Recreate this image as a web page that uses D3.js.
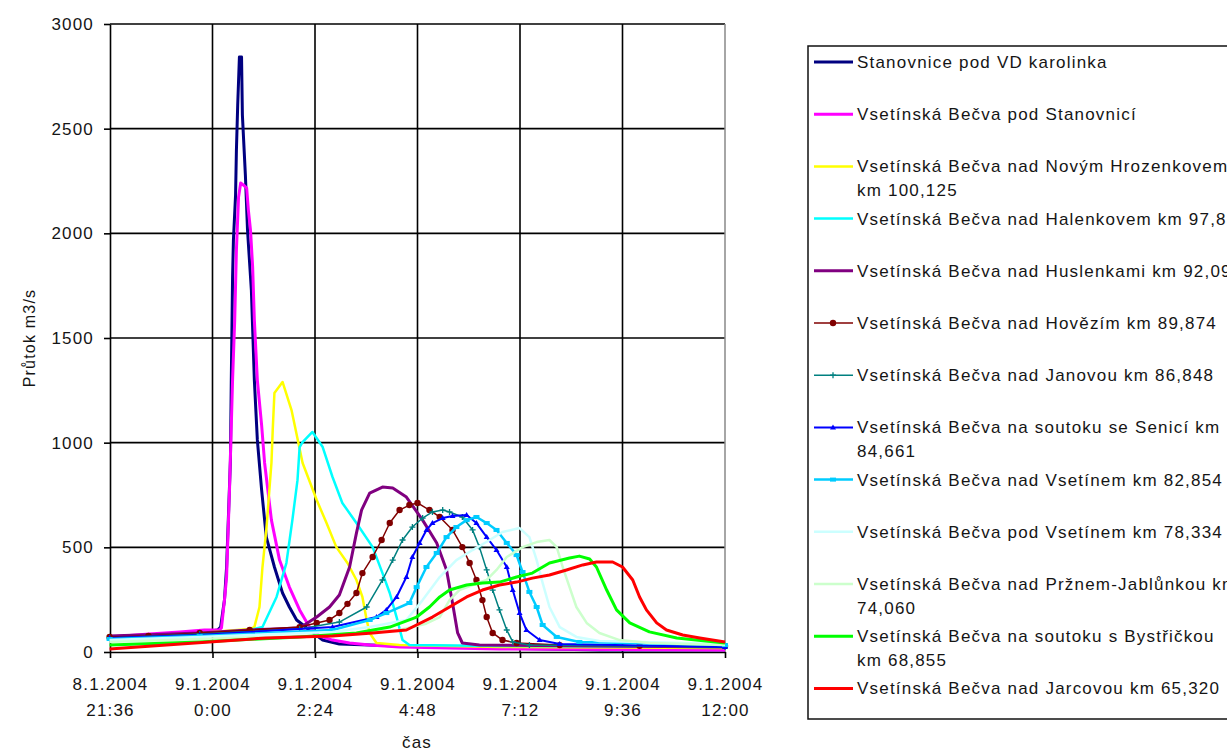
<!DOCTYPE html>
<html lang="cs">
<head>
<meta charset="utf-8">
<script src="https://d3js.org/d3.v7.min.js"></script>
<style>
    body { margin: 0; background: #fff; }
    svg { display: block; }
    text {
        font-family: "Liberation Sans", Arial, sans-serif;
        font-size: 17px;
        letter-spacing: 1.2px;
        fill: #151515;
    }
    .grid line { stroke: #000; stroke-width: 1.6; }
    .axis path, .axis line { stroke: #000; stroke-width: 1.6; }
</style>
</head>
<body>
<svg id="chart" width="1227" height="751"></svg>
<script>
// time values = hours after 9.1.2004 0:00, values = m3/s
const xTickDates = ["8.1.2004 21:36", "9.1.2004 0:00", "9.1.2004 2:24", "9.1.2004 4:48",
                    "9.1.2004 7:12", "9.1.2004 9:36", "9.1.2004 12:00"];
const yTicks = [0, 500, 1000, 1500, 2000, 2500, 3000];

const stanovnice = [[-2.41,62],[-1.71,72],[-1.01,81],[-0.30,91],[0.12,105],[0.19,119],[0.23,177],[0.28,248],[0.33,406],[0.37,630],[0.42,917],[0.44,1299],[0.47,1791],[0.49,1968],[0.54,2183],[0.56,2398],[0.59,2612],[0.63,2842],[0.68,2842],[0.70,2565],[0.77,2278],[0.82,2015],[0.91,1729],[0.98,1299],[1.05,1013],[1.15,774],[1.26,549],[1.45,406],[1.64,282],[1.80,215],[1.97,153],[2.27,105],[2.58,57],[2.97,38],[4.38,29],[6.72,19],[9.06,10],[12.0,10]];
const podStanovnici = [[-2.41,72],[-1.48,86],[-0.77,96],[-0.19,105],[0.16,105],[0.21,115],[0.28,248],[0.33,358],[0.40,788],[0.47,1299],[0.52,1586],[0.56,1920],[0.61,2173],[0.66,2240],[0.73,2230],[0.80,2216],[0.84,2111],[0.89,2015],[0.94,1839],[0.98,1586],[1.05,1299],[1.15,1084],[1.22,903],[1.38,630],[1.57,439],[1.80,310],[2.04,201],[2.27,119],[2.51,76],[2.81,57],[3.21,43],[3.68,33],[4.38,24],[6.72,14],[12.0,10]];
const novyHrozenkov = [[-2.41,72],[-0.30,91],[0.87,110],[0.98,119],[1.10,215],[1.17,406],[1.26,583],[1.38,903],[1.41,1060],[1.45,1237],[1.64,1290],[1.85,1156],[2.11,903],[2.44,726],[2.67,616],[2.90,501],[3.16,425],[3.37,344],[3.51,263],[3.61,153],[3.68,91],[3.84,43],[4.38,33],[6.72,24],[12.0,19]];
const halenkov = [[-2.41,67],[-0.30,86],[0.87,105],[1.17,119],[1.50,263],[1.73,425],[1.87,630],[1.99,821],[2.04,979],[2.11,1003],[2.34,1051],[2.58,979],[2.81,836],[3.04,712],[3.37,616],[3.75,501],[3.98,377],[4.15,282],[4.31,167],[4.45,57],[4.61,33],[6.72,29],[12.0,24]];
const huslenky = [[-2.41,76],[-0.30,91],[0.87,105],[2.04,115],[2.44,167],[2.74,215],[2.97,272],[3.21,406],[3.37,568],[3.49,678],[3.68,759],[3.98,788],[4.22,783],[4.54,740],[4.92,630],[5.25,521],[5.48,392],[5.62,234],[5.74,91],[5.85,43],[6.25,33],[12.0,24]];
const hovezi = [[-2.41,72],[-1.5,77],[-0.30,91],[0.87,105],[2.04,119],[2.44,139],[2.74,153],[2.97,186],[3.16,230],[3.37,282],[3.51,377],[3.75,454],[3.96,535],[4.15,616],[4.38,678],[4.61,702],[4.80,712],[5.08,678],[5.32,645],[5.62,583],[5.85,501],[6.02,425],[6.18,344],[6.32,248],[6.42,167],[6.56,91],[6.79,57],[7.12,43],[8.13,33],[10.0,30],[12.0,29]];
const janova = [[-2.41,67],[-0.30,86],[2.04,110],[2.97,143],[3.61,215],[3.98,344],[4.22,439],[4.45,535],[4.68,597],[4.92,640],[5.15,669],[5.39,678],[5.55,669],[5.85,645],[6.09,583],[6.25,501],[6.42,392],[6.56,296],[6.72,201],[6.89,105],[7.03,48],[7.42,33],[12.0,24]];
const senice = [[-2.41,67],[-0.30,81],[2.81,119],[3.84,167],[4.07,201],[4.31,263],[4.54,358],[4.68,454],[4.85,521],[5.01,583],[5.15,616],[5.39,640],[5.62,650],[5.95,654],[6.18,616],[6.42,549],[6.65,487],[6.89,406],[7.03,296],[7.19,186],[7.35,105],[7.66,57],[8.13,38],[12.0,24]];
const nadVsetinem = [[-2.41,62],[-0.30,76],[2.81,105],[3.68,153],[4.07,186],[4.61,234],[4.78,310],[5.01,406],[5.25,473],[5.48,549],[5.71,597],[5.95,630],[6.18,645],[6.42,616],[6.65,583],[6.89,521],[7.12,463],[7.26,382],[7.42,287],[7.59,215],[7.73,129],[8.06,72],[8.59,48],[12.0,33]];
const podVsetinem = [[-2.41,57],[-0.30,72],[2.81,96],[3.68,119],[4.54,153],[4.92,248],[5.32,358],[5.71,439],[6.09,487],[6.49,535],[6.79,573],[7.19,592],[7.42,549],[7.59,439],[7.73,330],[7.89,215],[8.13,119],[8.52,72],[9.06,53],[12.0,38]];
const prznem = [[-2.41,48],[-0.30,62],[2.81,81],[4.38,105],[5.0,135],[5.32,167],[5.55,248],[5.78,296],[6.09,320],[6.42,344],[6.65,392],[6.89,454],[7.26,501],[7.59,525],[7.89,535],[8.06,501],[8.20,406],[8.36,310],[8.52,215],[8.76,139],[9.06,91],[9.53,57],[10.23,43],[12.0,33]];
const bystricka = [[-2.41,33],[-0.30,48],[2.04,72],[3.37,91],[4.15,119],[4.78,167],[5.08,215],[5.32,263],[5.55,296],[5.95,320],[6.32,330],[6.72,334],[7.12,358],[7.49,377],[7.89,425],[8.36,449],[8.59,458],[8.83,444],[8.99,406],[9.23,296],[9.46,201],[9.77,139],[10.23,96],[10.87,67],[12.0,43]];
const jarcova = [[-2.41,14],[-1.08,33],[1.26,67],[2.81,76],[3.75,91],[4.54,105],[5.15,167],[5.55,215],[5.95,263],[6.32,296],[6.72,320],[7.12,334],[7.49,353],[7.89,368],[8.29,392],[8.67,416],[8.99,430],[9.37,430],[9.60,406],[9.84,344],[10.0,263],[10.16,201],[10.40,139],[10.63,105],[11.01,81],[11.41,67],[12.0,48]];

const series = [
    {name: ["Stanovnice pod VD karolinka"], data: stanovnice, color: "#000080", width: 3},
    {name: ["Vsetínská Bečva pod Stanovnicí"], data: podStanovnici, color: "#ff00ff", width: 3},
    {name: ["Vsetínská Bečva nad Novým Hrozenkovem", "km 100,125"], data: novyHrozenkov, color: "#ffff00", width: 2.5},
    {name: ["Vsetínská Bečva nad Halenkovem km 97,8"], data: halenkov, color: "#00ffff", width: 2.5},
    {name: ["Vsetínská Bečva nad Huslenkami km 92,09"], data: huslenky, color: "#800080", width: 3},
    {name: ["Vsetínská Bečva nad Hovězím km 89,874"], data: hovezi, color: "#800000", width: 1.5, marker: "circle"},
    {name: ["Vsetínská Bečva nad Janovou km 86,848"], data: janova, color: "#008080", width: 1.5, marker: "plus"},
    {name: ["Vsetínská Bečva na soutoku se Senicí km", "84,661"], data: senice, color: "#0000ff", width: 2, marker: "tri"},
    {name: ["Vsetínská Bečva nad Vsetínem km 82,854"], data: nadVsetinem, color: "#00ccff", width: 2.5, marker: "rect"},
    {name: ["Vsetínská Bečva pod Vsetínem km 78,334"], data: podVsetinem, color: "#ccffff", width: 2.5},
    {name: ["Vsetínská Bečva nad Pržnem-Jablůnkou km", "74,060"], data: prznem, color: "#ccffcc", width: 2.5},
    {name: ["Vsetínská Bečva na soutoku s Bystřičkou", "km 68,855"], data: bystricka, color: "#00ff00", width: 3},
    {name: ["Vsetínská Bečva nad Jarcovou km 65,320"], data: jarcova, color: "#ff0000", width: 3}
];

const svg = d3.select("#chart");
const plot = {left: 110, right: 725, top: 24, bottom: 652};

const parseDate = d3.timeParse("%d.%m.%Y %H:%M");
const base = new Date(2004, 0, 9, 0, 0);
const toDate = h => new Date(base.getTime() + h * 3600000);
const tickDates = xTickDates.map(parseDate);

const x = d3.scaleTime()
    .domain([tickDates[0], tickDates[tickDates.length - 1]])
    .range([plot.left, plot.right]);
const y = d3.scaleLinear()
    .domain([0, 3000])
    .range([plot.bottom, plot.top]);

// grid
const grid = svg.append("g").attr("class", "grid");
grid.selectAll(".h").data(yTicks.slice(1)).enter().append("line")
    .attr("x1", plot.left).attr("x2", plot.right)
    .attr("y1", d => y(d)).attr("y2", d => y(d));
grid.selectAll(".v").data(tickDates.slice(1, -1)).enter().append("line")
    .attr("x1", d => x(d)).attr("x2", d => x(d))
    .attr("y1", plot.top).attr("y2", plot.bottom);
svg.append("line")
    .attr("x1", plot.right).attr("x2", plot.right)
    .attr("y1", plot.top).attr("y2", plot.bottom)
    .attr("stroke", "#888").attr("stroke-width", 1.5);

// axes
const yAxis = svg.append("g").attr("class", "axis")
    .attr("transform", `translate(${plot.left},0)`)
    .call(d3.axisLeft(y).tickValues(yTicks).tickFormat(d3.format("d"))
        .tickSize(6).tickPadding(10).tickSizeOuter(0));
yAxis.selectAll("text").attr("fill", "#151515").style("font-size", "17px").style("font-family", null);

const xAxis = svg.append("g").attr("class", "axis")
    .attr("transform", `translate(0,${plot.bottom})`)
    .call(d3.axisBottom(x).tickValues(tickDates).tickSize(6).tickSizeOuter(0).tickFormat(""));
xAxis.selectAll(".tick text").remove();
xAxis.selectAll(".tick").each(function(d, i) {
    const parts = xTickDates[i].split(" ");
    const t = d3.select(this).append("text")
        .attr("text-anchor", "middle");
    t.append("tspan").attr("x", 0).attr("y", 38).text(parts[0]);
    t.append("tspan").attr("x", 0).attr("y", 64).text(parts[1]);
});
svg.selectAll(".axis .domain").attr("stroke-width", 1.6);

// axis titles
svg.append("text")
    .attr("x", 417).attr("y", 748)
    .attr("text-anchor", "middle")
    .text("čas");
svg.append("text")
    .attr("transform", "translate(35,338) rotate(-90)")
    .attr("text-anchor", "middle")
    .style("font-size", "16px")
    .text("Průtok m3/s");

// lines
const line = d3.line()
    .x(d => x(toDate(d[0])))
    .y(d => y(d[1]));

function drawMarker(g, type, color, cx, cy) {
    if (type === "circle") {
        g.append("circle").attr("cx", cx).attr("cy", cy).attr("r", 3.2).attr("fill", color);
    } else if (type === "plus") {
        g.append("path").attr("d", `M${cx - 3},${cy}h6M${cx},${cy - 3}v6`)
            .attr("stroke", color).attr("stroke-width", 1.3);
    } else if (type === "tri") {
        g.append("path").attr("d", `M${cx},${cy - 3}L${cx + 3},${cy + 2}L${cx - 3},${cy + 2}Z`).attr("fill", color);
    } else if (type === "rect") {
        g.append("rect").attr("x", cx - 3).attr("y", cy - 2).attr("width", 6).attr("height", 4).attr("fill", color);
    }
}

series.forEach(s => {
    const g = svg.append("g");
    g.append("path")
        .datum(s.data)
        .attr("d", line)
        .attr("fill", "none")
        .attr("stroke", s.color)
        .attr("stroke-width", s.width)
        .attr("stroke-linejoin", "round");
    if (s.marker) {
        s.data.forEach(d => drawMarker(g, s.marker, s.color, x(toDate(d[0])), y(d[1])));
    }
});

// legend (the reference cuts it at the right edge)
const legend = svg.append("g");
legend.append("rect")
    .attr("x", 808).attr("y", 46)
    .attr("width", 440).attr("height", 673)
    .attr("fill", "#fff").attr("stroke", "#111").attr("stroke-width", 1.5);

series.forEach((s, i) => {
    const cy = 62 + i * 52.2;
    legend.append("line")
        .attr("x1", 814).attr("x2", 853)
        .attr("y1", cy).attr("y2", cy)
        .attr("stroke", s.color)
        .attr("stroke-width", s.width);
    if (s.marker) drawMarker(legend, s.marker, s.color, 833, cy);
    s.name.forEach((t, j) => {
        legend.append("text")
            .attr("x", 857)
            .attr("y", cy + 6 + j * 24)
            .text(t);
    });
});
</script>
</body>
</html>
